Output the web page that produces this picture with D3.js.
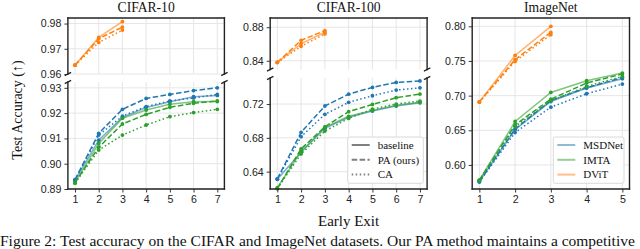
<!DOCTYPE html>
<html lang="en">
<head>
<meta charset="UTF-8">
<title>Early exit accuracy</title>
<script src="https://d3js.org/d3.v7.min.js"></script>
<style>
  body { margin: 0; background: #fff; }
  svg { display: block; font-family: "Liberation Serif", "DejaVu Serif", serif; }
  .tick text { font-size: 10.6px; fill: #222; }
</style>
</head>
<body>
<svg id="chart" width="640" height="249"></svg>
<script>
// exits and tick labels
const exitsCifar = [1, 2, 3, 4, 5, 6, 7];
const exitsDvit = [1, 2, 3];
const exitsImageNet = [1, 2, 3, 4, 5];
const variants = ["baseline", "PA (ours)", "CA"];
const models = ["MSDNet", "IMTA", "DViT"];

const c10TopTicks = [0.96, 0.97, 0.98];
const c10BottomTicks = [0.89, 0.90, 0.91, 0.92, 0.93];
const c100TopTicks = [0.84, 0.88];
const c100BottomTicks = [0.64, 0.68, 0.72];
const inTicks = [0.60, 0.65, 0.70, 0.75, 0.80];

// CIFAR-10
const c10MsdBase = [0.8935, 0.9093, 0.9183, 0.9222, 0.9245, 0.9265, 0.9270];
const c10MsdPA   = [0.8937, 0.9120, 0.9215, 0.9258, 0.9274, 0.9289, 0.9300];
const c10MsdCA   = [0.8935, 0.9113, 0.9188, 0.9226, 0.9248, 0.9260, 0.9274];
const c10ImtaBase = [0.8925, 0.9080, 0.9180, 0.9212, 0.9235, 0.9245, 0.9246];
const c10ImtaPA   = [0.8925, 0.9065, 0.9157, 0.9195, 0.9223, 0.9239, 0.9248];
const c10ImtaCA   = [0.8923, 0.9054, 0.9113, 0.9153, 0.9186, 0.9202, 0.9215];
const c10DvitBase = [0.9635, 0.9745, 0.9808];
const c10DvitPA   = [0.9635, 0.9740, 0.9786];
const c10DvitCA   = [0.9635, 0.9725, 0.9774];

// CIFAR-100
const c100MsdBase = [0.6310, 0.6630, 0.6913, 0.7043, 0.7117, 0.7176, 0.7215];
const c100MsdPA   = [0.6315, 0.6865, 0.7177, 0.7317, 0.7397, 0.7456, 0.7473];
const c100MsdCA   = [0.6310, 0.6814, 0.7078, 0.7220, 0.7298, 0.7365, 0.7392];
const c100ImtaBase = [0.6210, 0.6640, 0.6925, 0.7055, 0.7125, 0.7185, 0.7220];
const c100ImtaPA   = [0.6200, 0.6670, 0.6930, 0.7110, 0.7195, 0.7275, 0.7318];
const c100ImtaCA   = [0.6200, 0.6610, 0.6880, 0.7030, 0.7140, 0.7200, 0.7235];
const c100DvitBase = [0.8380, 0.8605, 0.8740];
const c100DvitPA   = [0.8380, 0.8644, 0.8760];
const c100DvitCA   = [0.8380, 0.8573, 0.8720];

// ImageNet
const inMsdBase = [0.5760, 0.6510, 0.6915, 0.7110, 0.7244];
const inMsdPA   = [0.5760, 0.6520, 0.6930, 0.7115, 0.7260];
const inMsdCA   = [0.5755, 0.6467, 0.6834, 0.7027, 0.7167];
const inImtaBase = [0.5780, 0.6627, 0.7046, 0.7215, 0.7326];
const inImtaPA   = [0.5780, 0.6578, 0.6950, 0.7182, 0.7312];
const inImtaCA   = [0.5775, 0.6554, 0.6926, 0.7133, 0.7277];
const inDvitBase = [0.6910, 0.7580, 0.8000];
const inDvitPA   = [0.6910, 0.7520, 0.7913];
const inDvitCA   = [0.6905, 0.7494, 0.7880];

const color = { MSDNet: "#1f77b4", IMTA: "#2ca02c", DViT: "#ff7f0e" };
const dash = { "baseline": null, "PA (ours)": "5.5,2.4", "CA": "1.5,2.5" };

const svg = d3.select("#chart");
let clipId = 0;

// one axes section (a panel, or half of a broken panel)
function section(p, s) {
  const x = d3.scaleLinear().domain(p.xdom).range([p.x0, p.x1]);
  const y = d3.scaleLinear().domain(s.dom).range([s.y1, s.y0]);
  const g = svg.append("g");

  // grid
  g.selectAll(".gx").data(p.xticks).join("line")
    .attr("x1", d => x(d)).attr("x2", d => x(d))
    .attr("y1", s.y0).attr("y2", s.y1)
    .attr("stroke", "#e3e3e3").attr("stroke-width", 0.9);
  g.selectAll(".gy").data(s.ticks).join("line")
    .attr("x1", p.x0).attr("x2", p.x1)
    .attr("y1", d => y(d)).attr("y2", d => y(d))
    .attr("stroke", "#e3e3e3").attr("stroke-width", 0.9);

  // series
  const id = "clip" + (clipId++);
  svg.append("clipPath").attr("id", id).append("rect")
    .attr("x", p.x0).attr("y", s.y0 - 3).attr("width", p.x1 - p.x0).attr("height", s.y1 - s.y0 + 6);
  const plot = g.append("g").attr("clip-path", "url(#" + id + ")");
  s.series.forEach(se => {
    const pts = se.values.map((v, i) => [se.exits[i], v]);
    const line = d3.line().x(d => x(d[0])).y(d => y(d[1]));
    plot.append("path").datum(pts)
      .attr("d", line)
      .attr("fill", "none")
      .attr("stroke", color[se.model])
      .attr("stroke-width", 1.5)
      .attr("stroke-opacity", se.variant === "baseline" ? 0.6 : 1)
      .attr("stroke-dasharray", dash[se.variant]);
    plot.selectAll(null).data(pts).join("circle")
      .attr("cx", d => x(d[0])).attr("cy", d => y(d[1]))
      .attr("r", 1.9).attr("fill", color[se.model]);
  });

  // y axis
  const ya = g.append("g").attr("transform", `translate(${p.x0},0)`)
    .call(d3.axisLeft(y).tickValues(s.ticks).tickFormat(d3.format(".2f")).tickSize(3.5).tickPadding(3));
  ya.select(".domain").remove();
  ya.selectAll(".tick line").attr("stroke", "#222").attr("stroke-width", 0.9);

  // x axis only on bottom section
  if (s.bottom) {
    const xa = g.append("g").attr("transform", `translate(0,${s.y1})`)
      .call(d3.axisBottom(x).tickValues(p.xticks).tickFormat(d3.format("d")).tickSize(3.5).tickPadding(3));
    xa.select(".domain").remove();
    xa.selectAll(".tick line").attr("stroke", "#222").attr("stroke-width", 0.9);
  }

  // spines
  const sp = (x1, y1, x2, y2) => g.append("line")
    .attr("x1", x1).attr("y1", y1).attr("x2", x2).attr("y2", y2)
    .attr("stroke", "#222").attr("stroke-width", 1.4).attr("stroke-linecap", "square");
  sp(p.x0, s.y0, p.x0, s.y1);
  sp(p.x1, s.y0, p.x1, s.y1);
  if (s.top) sp(p.x0, s.y0, p.x1, s.y0);
  if (s.bottom) sp(p.x0, s.y1, p.x1, s.y1);

  // break marks
  const brk = (cx, cy) => g.append("line")
    .attr("x1", cx - 3.2).attr("y1", cy + 1.6).attr("x2", cx + 3.2).attr("y2", cy - 1.6)
    .attr("stroke", "#222").attr("stroke-width", 1.2);
  if (!s.top) { brk(p.x0, s.y0); brk(p.x1, s.y0); }
  if (!s.bottom) { brk(p.x0, s.y1); brk(p.x1, s.y1); }
}

function seriesOf(exits, model, arrs) {
  return arrs.map((a, i) => ({ exits: exits, model: model, variant: variants[i], values: a }));
}

const panels = [
  {
    title: "CIFAR-10", x0: 67.9, x1: 224.4, xdom: [0.7, 7.3], xticks: exitsCifar,
    sections: [
      { y0: 18, y1: 74, dom: [0.96, 0.9822], ticks: c10TopTicks, top: true,
        series: seriesOf(exitsDvit, "DViT", [c10DvitBase, c10DvitPA, c10DvitCA]) },
      { y0: 82, y1: 189, dom: [0.89, 0.9323], ticks: c10BottomTicks, bottom: true,
        series: seriesOf(exitsCifar, "MSDNet", [c10MsdBase, c10MsdPA, c10MsdCA])
          .concat(seriesOf(exitsCifar, "IMTA", [c10ImtaBase, c10ImtaPA, c10ImtaCA])) }
    ]
  },
  {
    title: "CIFAR-100", x0: 270.2, x1: 427.1, xdom: [0.7, 7.3], xticks: exitsCifar,
    sections: [
      { y0: 18, y1: 69.5, dom: [0.8296, 0.891], ticks: c100TopTicks, top: true,
        series: seriesOf(exitsDvit, "DViT", [c100DvitBase, c100DvitPA, c100DvitCA]) },
      { y0: 78, y1: 189, dom: [0.6195, 0.7508], ticks: c100BottomTicks, bottom: true,
        series: seriesOf(exitsCifar, "MSDNet", [c100MsdBase, c100MsdPA, c100MsdCA])
          .concat(seriesOf(exitsCifar, "IMTA", [c100ImtaBase, c100ImtaPA, c100ImtaCA])) }
    ]
  },
  {
    title: "ImageNet", x0: 472.2, x1: 629.5, xdom: [0.8, 5.2], xticks: exitsImageNet,
    sections: [
      { y0: 18, y1: 189, dom: [0.5653, 0.812], ticks: inTicks, top: true, bottom: true,
        series: seriesOf(exitsImageNet, "MSDNet", [inMsdBase, inMsdPA, inMsdCA])
          .concat(seriesOf(exitsImageNet, "IMTA", [inImtaBase, inImtaPA, inImtaCA]))
          .concat(seriesOf(exitsDvit, "DViT", [inDvitBase, inDvitPA, inDvitCA])) }
    ]
  }
];

panels.forEach(p => {
  p.sections.forEach(s => section(p, s));
  svg.append("text").attr("x", (p.x0 + p.x1) / 2).attr("y", 11.5)
    .attr("text-anchor", "middle").attr("font-size", 13.6).attr("fill", "#111").text(p.title);
});

// axis labels
svg.append("text").attr("transform", "translate(22,110) rotate(-90)")
  .attr("text-anchor", "middle").attr("font-size", 14).attr("fill", "#111").text("Test Accuracy (↑)");
svg.append("text").attr("x", 348.6).attr("y", 226)
  .attr("text-anchor", "middle").attr("font-size", 15).attr("fill", "#111").text("Early Exit");

// legends
function legend(x, y, w, h, items) {
  const g = svg.append("g");
  g.append("rect").attr("x", x).attr("y", y).attr("width", w).attr("height", h)
    .attr("rx", 2).attr("fill", "#fff").attr("fill-opacity", 0.85)
    .attr("stroke", "#d6d6d6").attr("stroke-width", 0.9);
  items.forEach((it, i) => {
    const yy = y + 8 + i * 14.8;
    g.append("line").attr("x1", x + 4).attr("x2", x + 22).attr("y1", yy).attr("y2", yy)
      .attr("stroke", it.color).attr("stroke-width", 2).attr("stroke-opacity", it.opacity)
      .attr("stroke-dasharray", it.dash);
    g.append("text").attr("x", x + 30).attr("y", yy + 3.8)
      .attr("font-size", 11).attr("fill", "#111").text(it.label);
  });
}
legend(347.7, 137, 75.6, 46.3, variants.map(v => ({ label: v, color: "#7f7f7f", opacity: 1, dash: dash[v] })));
legend(553.3, 137, 70.7, 46.3, models.map(m => ({ label: m, color: color[m], opacity: 0.5, dash: null })));

// caption (cut off at the bottom of the picture, as in the source figure)
svg.append("text").attr("x", 0).attr("y", 246).attr("font-size", 15.5).attr("fill", "#111")
  .text("Figure 2: Test accuracy on the CIFAR and ImageNet datasets. Our PA method maintains a competitive");
</script>
</body>
</html>
